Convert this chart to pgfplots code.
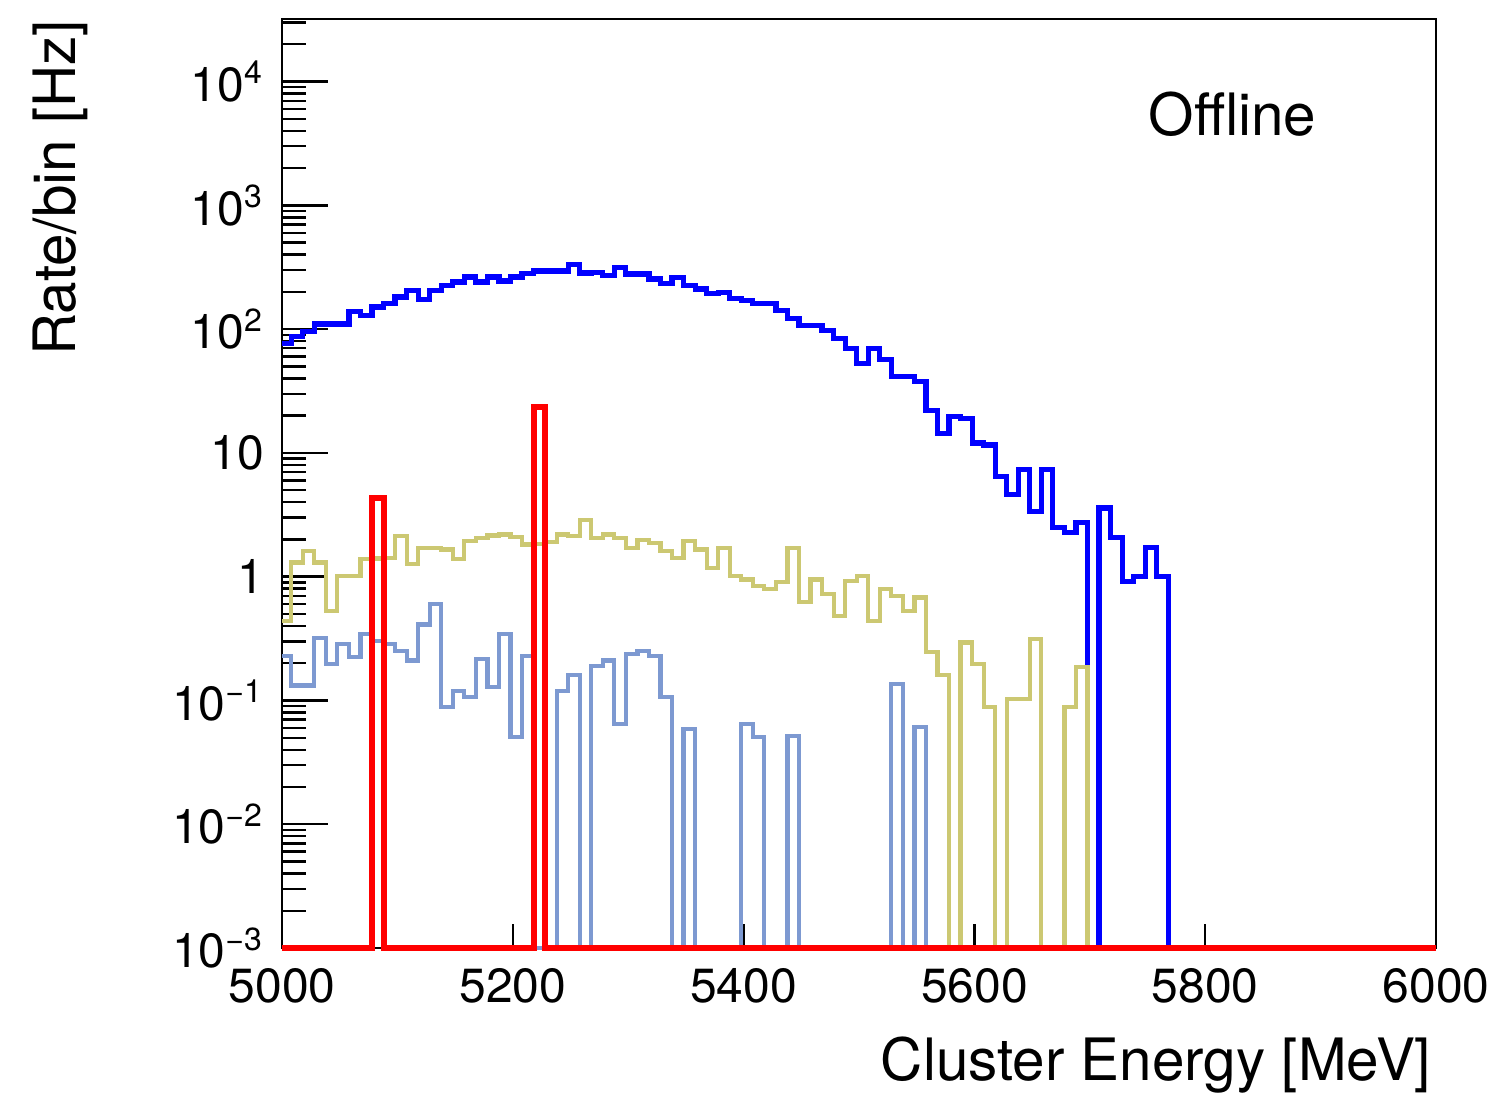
\documentclass[border=0pt]{standalone}
\usepackage{fontspec}
\setmainfont{TeX Gyre Heros}
\usepackage{pgfplots}
\pgfplotsset{compat=1.18}
\usetikzlibrary{calc}
\definecolor{rootblue}{HTML}{0000FF}
\definecolor{rootred}{HTML}{FF0000}
\definecolor{rootkhaki}{HTML}{CCC872}
\definecolor{rootsky}{HTML}{7D99D1}

% bin contents, left bin edges (10 MeV bins), empty bins sit on the axis floor
\pgfplotstableread{
x y
5000 76
5008 87
5018 95
5028 110
5038 110
5048 110
5058 138
5068 128
5078 151
5088 160
5098 182
5108 204
5118 174
5128 204
5138 224
5148 240
5158 264
5168 240
5178 264
5188 245
5198 264
5208 280
5218 295
5228 295
5238 295
5248 335
5258 284
5268 288
5278 271
5288 316
5298 279
5308 279
5318 254
5328 232
5338 263
5348 225
5358 211
5368 193
5378 199
5388 176
5398 170
5408 160
5418 160
5428 141
5438 121
5448 107
5458 107
5468 98
5478 84
5488 70
5498 52.5
5508 70
5518 57
5528 41.5
5538 41.5
5548 38
5558 22
5568 14.4
5578 19.6
5588 19
5598 12
5608 11.6
5618 6.45
5628 4.6
5638 7.3
5648 3.38
5658 7.3
5668 2.48
5678 2.26
5688 2.72
5698 0.001
5708 3.59
5718 2.06
5728 0.92
5738 1.01
5748 1.71
5758 1.01
5768 0.001
6000 0.001
}\offline

\pgfplotstableread{
x y
5000 0.23
5008 0.132
5018 0.132
5028 0.32
5038 0.197
5048 0.285
5058 0.223
5068 0.343
5078 0.3
5088 0.285
5098 0.252
5108 0.21
5118 0.41
5128 0.60
5138 0.088
5148 0.12
5158 0.106
5168 0.216
5178 0.128
5188 0.343
5198 0.051
5208 0.23
5218 0.001
5228 0.001
5238 0.12
5248 0.16
5258 0.001
5268 0.19
5278 0.21
5288 0.065
5298 0.237
5308 0.252
5318 0.23
5328 0.106
5338 0.001
5348 0.059
5358 0.001
5398 0.065
5408 0.051
5418 0.001
5438 0.052
5448 0.001
5528 0.136
5538 0.001
5548 0.061
5558 0.001
6000 0.001
}\lightblue

\pgfplotstableread{
x y
5000 0.44
5008 1.30
5018 1.61
5028 1.30
5038 0.53
5048 1.01
5058 1.01
5068 1.38
5078 1.4
5088 1.42
5098 2.12
5108 1.26
5118 1.71
5128 1.71
5138 1.66
5148 1.38
5158 1.94
5168 2.06
5178 2.15
5188 2.19
5198 2.1
5208 1.82
5218 1.85
5228 1.9
5238 2.19
5248 2.12
5258 2.89
5268 2.06
5278 2.19
5288 2.06
5298 1.71
5308 1.99
5318 1.88
5328 1.61
5338 1.42
5348 1.94
5358 1.66
5368 1.18
5378 1.71
5388 1.01
5398 0.95
5408 0.84
5418 0.79
5428 0.90
5438 1.71
5448 0.62
5458 0.95
5468 0.72
5478 0.48
5488 0.92
5498 1.01
5508 0.44
5518 0.79
5528 0.70
5538 0.53
5548 0.68
5558 0.245
5568 0.16
5578 0.001
5588 0.294
5598 0.197
5608 0.088
5618 0.001
5628 0.103
5638 0.103
5648 0.313
5658 0.001
5668 0.001
5678 0.088
5688 0.185
5698 0.001
6000 0.001
}\khaki

\pgfplotstableread{
x y
5000 0.001
5078 4.3
5088 0.001
5218 23.5
5228 0.001
6000 0.001
}\redhist

\begin{document}
\begin{tikzpicture}
\begin{axis}[
  width=288.5pt, height=232.25pt, scale only axis,
  xmin=5000, xmax=6000,
  ymode=log, ymin=1e-3, ymax=3.2e4,
  clip=false,
  axis line style={line width=0.7pt},
  tick align=inside, xtick pos=bottom, ytick pos=left,
  xtick={5000,5200,5400,5600,5800,6000},
  xticklabels={5000,5200,5400,5600,5800,6000},
  ytick={1e-3,1e-2,1e-1,1,10,100,1000,10000},
  yticklabels={10\textsuperscript{−3},10\textsuperscript{−2},10\textsuperscript{−1},1,10,10\textsuperscript{2},10\textsuperscript{3},10\textsuperscript{4}},
  minor ytick={2e-3,3e-3,4e-3,5e-3,6e-3,7e-3,8e-3,9e-3,
    2e-2,3e-2,4e-2,5e-2,6e-2,7e-2,8e-2,9e-2,
    0.2,0.3,0.4,0.5,0.6,0.7,0.8,0.9,
    2,3,4,5,6,7,8,9,
    20,30,40,50,60,70,80,90,
    200,300,400,500,600,700,800,900,
    2000,3000,4000,5000,6000,7000,8000,9000,
    20000,30000},
  major tick length=11.5pt, minor tick length=6pt,
  xtick style={/pgfplots/major tick length=6pt},
  tick style={line width=0.6pt, black},
  ticklabel style={font=\fontsize{12}{14}\selectfont},
  xticklabel style={inner sep=0pt, yshift=-5pt},
  yticklabel style={xshift=-1pt},
  every axis plot/.append style={const plot mark left, mark=none, line join=miter},
]
\addplot[color=rootblue, line width=1.3pt] table {\offline};
\addplot[color=rootsky, line width=1.05pt] table {\lightblue};
\addplot[color=rootkhaki, line width=1.05pt] table {\khaki};
\addplot[color=rootred, line width=1.5pt] table {\redhist};
\node[anchor=base west, inner sep=0pt, font=\fontsize{14.6}{17}\selectfont] at (rel axis cs:0.7504,0.875) {Offline};
\end{axis}
\node[rotate=90, anchor=base east, inner sep=0pt, font=\fontsize{14.6}{17}\selectfont] at ($(current axis.north west)+(-51.5pt,0pt)$) {Rate/bin [Hz]};
\node[anchor=base east, inner sep=0pt, font=\fontsize{14.6}{17}\selectfont] at ($(current axis.south east)+(-1pt,-33pt)$) {Cluster Energy [MeV]};
\path ($(current axis.south west)+(-70.5pt,-36.5pt)$) rectangle ($(current axis.north east)+(15pt,4.75pt)$);
\end{tikzpicture}
\end{document}
